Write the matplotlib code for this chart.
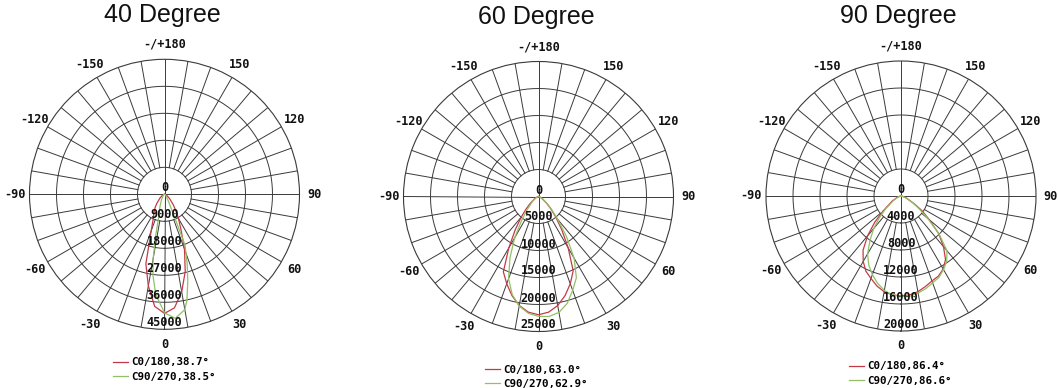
import numpy as np
import matplotlib
matplotlib.use("Agg")
import matplotlib.pyplot as plt

# --- data (angle in degrees from nadir, signed: + to the right) ---
TITLES = ["40 Degree", "60 Degree", "90 Degree"]
RING_VALUES = [
    [9000, 18000, 27000, 36000, 45000],
    [5000, 10000, 15000, 20000, 25000],
    [4000, 8000, 12000, 16000, 20000],
]
LEGEND_RED = ["C0/180,38.7°", "C0/180,63.0°", "C0/180,86.4°"]
LEGEND_GREEN = ["C90/270,38.5°", "C90/270,62.9°", "C90/270,86.6°"]

ANG_40_RED = [-90, -80, -70, -60, -50, -40, -35, -30, -25, -20, -15, -10, -5, 0,
              5, 10, 15, 20, 25, 30, 35, 40, 50, 60, 70, 80, 90]
I_40_RED = [0, 200, 500, 1000, 2000, 4000, 5500, 7000, 8800, 13000, 24000, 31000, 37500, 39700,
            38000, 33000, 26700, 19500, 13000, 9300, 6500, 4500, 2200, 1000, 500, 200, 0]
ANG_40_GREEN = [-90, -60, -40, -30, -20, -15, -12, -10, -8, -5, 0,
                5, 10, 12, 15, 18, 22, 25, 30, 40, 60, 90]
I_40_GREEN = [0, 300, 800, 2000, 4500, 7000, 14000, 22000, 27500, 33500, 39500,
              41500, 39000, 36000, 30000, 24500, 18300, 6000, 2500, 800, 300, 0]

ANG_60_RED = [-90, -70, -60, -50, -45, -40, -35, -30, -25, -20, -15, -10, -5, 0,
              5, 10, 15, 20, 25, 30, 35, 40, 45, 50, 60, 70, 90]
I_60_RED = [0, 300, 800, 2000, 3200, 5000, 7500, 11000, 15400, 17200, 19000, 20500, 21500, 21900,
            21500, 20500, 19000, 17200, 15200, 11000, 7500, 5000, 3200, 2000, 800, 300, 0]
ANG_60_GREEN = [-90, -60, -50, -40, -35, -30, -25, -20, -15, -10, -5, 0,
                5, 10, 15, 20, 25, 30, 35, 40, 45, 50, 60, 70, 80, 90]
I_60_GREEN = [0, 600, 1500, 3500, 5500, 8800, 12500, 16200, 18800, 20600, 21700, 22200,
              22300, 21800, 20500, 18500, 16600, 13200, 9000, 5500, 3500, 2200, 900, 300, 100, 0]

ANG_90_RED = [-90, -80, -70, -60, -50, -45, -40, -35, -30, -25, -20, -15, -10, -5, 0,
              5, 10, 15, 20, 25, 30, 35, 40, 45, 50, 55, 60, 70, 80, 90]
I_90_RED = [0, 200, 600, 1500, 3500, 5500, 7700, 9800, 11200, 12300, 13000, 13800, 14400, 14700, 14800,
            14700, 14400, 13900, 13400, 13100, 12500, 11500, 9800, 7900, 5500, 3800, 2200, 800, 200, 0]
ANG_90_GREEN = [-90, -70, -60, -50, -45, -40, -35, -30, -25, -20, -15, -10, -5, 0,
                5, 10, 15, 20, 25, 30, 35, 40, 45, 50, 55, 60, 70, 80, 90]
I_90_GREEN = [0, 500, 1200, 3000, 4500, 6300, 8000, 9900, 11300, 12400, 13400, 14200, 14700, 14900,
              14900, 14600, 14200, 13700, 13300, 12600, 11800, 10600, 8000, 5200, 3200, 2000, 700, 200, 0]

ANGLE_TICKS = [0, 30, 60, 90, 120, 150, 180, -150, -120, -90, -60, -30]
ANGLE_LABELS = ["0", "30", "60", "90", "120", "150", "-/+180", "-150", "-120", "-90", "-60", "-30"]

CURVES = [
    ((ANG_40_RED, I_40_RED), (ANG_40_GREEN, I_40_GREEN)),
    ((ANG_60_RED, I_60_RED), (ANG_60_GREEN, I_60_GREEN)),
    ((ANG_90_RED, I_90_RED), (ANG_90_GREEN, I_90_GREEN)),
]

# layout in pixels (figure 1058 x 388)
W, H = 1058, 388
CENTERS = [(164.5, 194.3), (538.5, 196.5), (901.0, 196.0)]
RADIUS = 135
TITLE_POS = [(162, 15), (536, 17), (898, 16)]
LEGEND_POS = [(113, 357.5), (484.5, 364.5), (849, 361.5)]

GRID = "#3a3a3a"
RED = "#c23a4a"
GREEN = "#92c064"
MONO = "DejaVu Sans Mono"

fig = plt.figure(figsize=(W / 100, H / 100), dpi=100)

for k in range(3):
    cx, cy = CENTERS[k]
    ax = fig.add_axes([(cx - RADIUS) / W, (H - cy - RADIUS) / H, 2 * RADIUS / W, 2 * RADIUS / H],
                      projection="polar")
    rings = RING_VALUES[k]
    rmax = rings[-1]
    ax.set_theta_zero_location("S")
    ax.set_ylim(0, rmax)
    ax.grid(False)
    ax.set_xticks([])
    ax.set_yticks([])
    ax.spines["polar"].set_color(GRID)
    ax.spines["polar"].set_linewidth(0.8)

    full = np.linspace(0, 2 * np.pi, 361)
    for r in rings[:-1]:
        ax.plot(full, np.full_like(full, r), color=GRID, lw=0.7)
    for a in range(0, 360, 10):
        t = np.radians(a)
        r0 = 0 if a % 90 == 0 else rings[0]
        ax.plot([t, t], [r0, rmax], color=GRID, lw=0.7)

    (ar, ir), (ag, ig) = CURVES[k]
    ax.plot(np.radians(ar), ir, color=RED, lw=0.9)
    ax.plot(np.radians(ag), ig, color=GREEN, lw=0.9)

    ax.text(0, 0, "0", ha="center", va="bottom", fontsize=8.6, family=MONO,
            weight="bold", color="#111")
    for r in rings:
        ax.text(0, r, str(r), ha="center", va="bottom", fontsize=8.6, family=MONO,
                weight="bold", color="#111")

    for a, lab in zip(ANGLE_TICKS, ANGLE_LABELS):
        ax.text(np.radians(a), rmax * 1.11, lab, ha="center", va="center", fontsize=8.6,
                family=MONO, weight="bold", color="#111", clip_on=False)

    tx, ty = TITLE_POS[k]
    fig.text(tx / W, 1 - ty / H, TITLES[k], ha="center", va="center", fontsize=18,
             family="Liberation Sans", color="#111")

    h1, = ax.plot([], [], color=RED, lw=0.9, label=LEGEND_RED[k])
    h2, = ax.plot([], [], color=GREEN, lw=0.9, label=LEGEND_GREEN[k])
    lx, ly = LEGEND_POS[k]
    ax.legend(handles=[h1, h2], loc="upper left", bbox_to_anchor=(lx / W, 1 - ly / H),
              bbox_transform=fig.transFigure, frameon=False, borderpad=0, borderaxespad=0,
              handlelength=1.4, handletextpad=0.3, labelspacing=0.4,
              prop={"family": MONO, "size": 7.8, "weight": "bold"})

fig.savefig("out.png", dpi=100)
